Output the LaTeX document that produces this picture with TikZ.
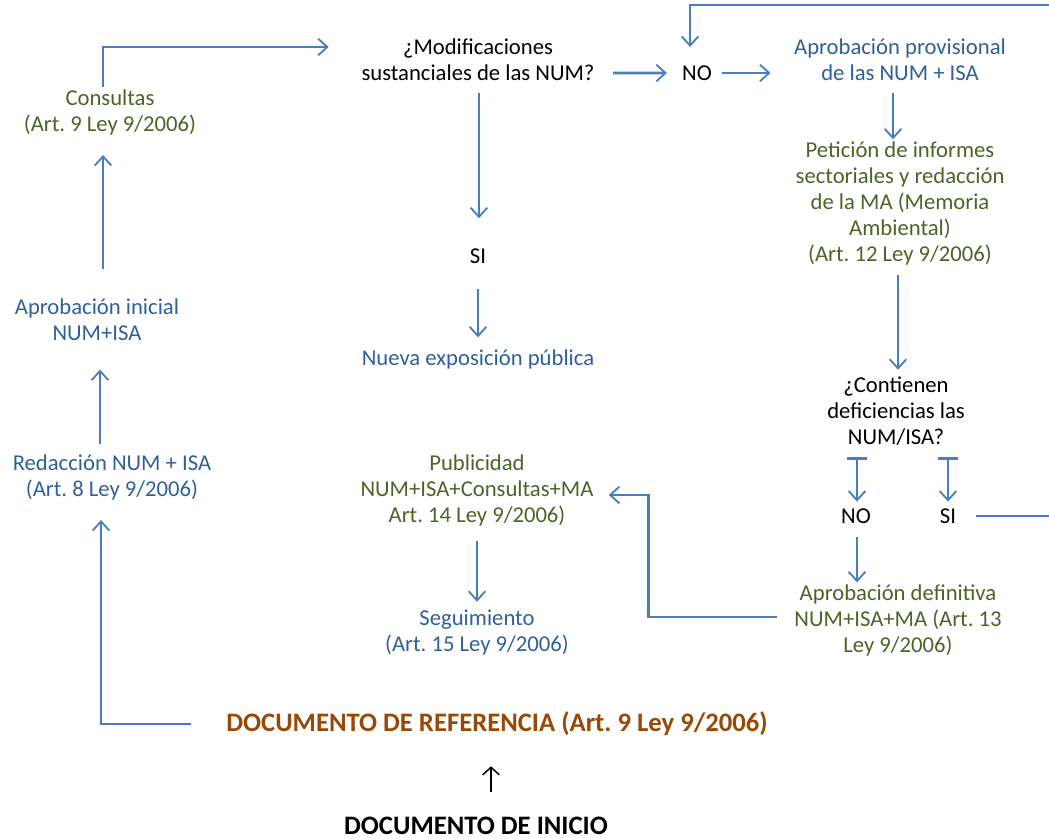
\documentclass[tikz,border=0pt]{standalone}
\usepackage{fontspec}
\setmainfont{Carlito}
\usetikzlibrary{arrows.meta, positioning, calc}
\definecolor{flowblue}{HTML}{4A7EBB}
\definecolor{txtblue}{HTML}{30609A}
\definecolor{txtgreen}{HTML}{4F6228}
\definecolor{txtbrown}{HTML}{984807}
\frenchspacing

\begin{document}
\begin{tikzpicture}[
  x=0.6pt, y=-0.6pt,
  every node/.style={inner sep=0pt, align=center, font=\fontsize{13.6}{15.6}\selectfont},
  blk/.style={text=black},
  blu/.style={text=txtblue},
  grn/.style={text=txtgreen},
  big/.style={font=\fontsize{16}{19}\selectfont\bfseries},
  flow/.style={-{Straight Barb[length=5.5pt,width=10pt,line width=1.1pt]}, line width=1.7pt, draw=flowblue},
  tbar/.style={{Bar[width=12pt,line width=1.7pt]}-{Straight Barb[length=5.5pt,width=10pt,line width=1.1pt]}, line width=1.7pt, draw=flowblue},
  up/.style={-{Straight Barb[length=4.5pt,width=10pt,line width=0.9pt]}, line width=0.9pt, draw=black}
]
  \useasboundingbox (0,0) rectangle (1049,839);

  % Nodes
  \node[grn] (cons) at (110,112) {Consultas\\(Art. 9 Ley 9/2006)};
  \node[blk] (mod) at (478,60) {¿Modificaciones\\sustanciales de las NUM?};
  \node[blk] (no1) at (697,73) {NO};
  \node[blu] (aprov) at (900,60) {Aprobación provisional\\de las NUM + ISA};
  \node[grn] (pet) at (900,203) {Petición de informes\\sectoriales y redacción\\de la MA (Memoria\\Ambiental)\\(Art. 12 Ley 9/2006)};
  \node[blk] (si1) at (478,256) {SI};
  \node[blu] (nueva) at (478,359) {Nueva exposición pública};
  \node[blu] (ainic) at (97,320) {Aprobación inicial\\NUM+ISA};
  \node[blu] (redac) at (112,477) {Redacción NUM + ISA\\(Art. 8 Ley 9/2006)};
  \node[blk] (cont) at (896,411) {¿Contienen\\deficiencias las\\NUM/ISA?};
  \node[blk] (no2) at (856,516) {NO};
  \node[blk] (si2) at (948,516) {SI};
  \node[grn] (pub) at (477,490) {Publicidad\\NUM+ISA+Consultas+MA\\Art. 14 Ley 9/2006)};
  \node[blu] (seg) at (477,633) {Seguimiento\\(Art. 15 Ley 9/2006)};
  \node[grn] (adef) at (898,620) {Aprobación definitiva\\NUM+ISA+MA (Art. 13\\Ley 9/2006)};
  \node[big, text=txtbrown] (docref) at (497,724) {DOCUMENTO DE REFERENCIA (Art. 9 Ley 9/2006)};
  \node[big, blk] (docini) at (476,826) {DOCUMENTO DE INICIO};

  % helper points for the loop that leaves the page
  \coordinate (loopr) at (1075,5);
  \coordinate (loopl) at (690,5);

  % Connectors
  \draw[flow, shorten <=1pt, shorten >=19.5pt] ([xshift=-4.2pt]cons.north) |- ([yshift=7.8pt]mod.west);
  \draw[flow, shorten <=11pt, shorten >=9pt] ([yshift=-7.8pt]mod.east) -- (no1.west);
  \draw[flow, shorten <=6pt, shorten >=14pt] (no1.east) -- (aprov.west |- no1);
  \draw[flow, shorten <=7pt, shorten >=1pt] ([xshift=-4.2pt]aprov.south) -- ([xshift=-4.2pt]aprov.south |- pet.north);
  \draw[flow, shorten <=7pt, shorten >=18pt] ([xshift=0.6pt]mod.south) -- ([xshift=0.6pt]mod.south |- si1.north);
  \draw[flow, shorten <=15pt, shorten >=7pt] (si1.south) -- (nueva.north);
  \draw[flow, shorten <=6pt, shorten >=4pt] ([xshift=-1.2pt]pet.south) -- ([xshift=-1.2pt]pet.south |- cont.north);
  \draw[tbar, shorten <=7pt, shorten >=4pt] ([xshift=0.6pt]no2.north |- cont.south) -- ([xshift=0.6pt]no2.north);
  \draw[tbar, shorten <=7pt, shorten >=4pt] (si2.north |- cont.south) -- (si2.north);
  \draw[flow, shorten <=8pt, shorten >=1pt] ([xshift=0.6pt]no2.south) -- ([xshift=0.6pt]no2.south |- adef.north);
  \draw[flow, shorten <=10pt, shorten >=9pt] ([yshift=1.8pt]adef.west) -- ++(-146,0) |- ([yshift=-3pt]pub.east);
  \draw[flow, shorten <=9pt, shorten >=5pt] (pub.south) -- (seg.north);
  \draw[flow, shorten <=6pt, shorten >=17pt] ([xshift=-7.2pt]redac.north) -- ([xshift=-7.2pt]redac.north |- ainic.south);
  \draw[flow, shorten <=18pt, shorten >=12pt] ([xshift=3.6pt]ainic.north) -- ([xshift=3.6pt]ainic.north |- cons.south);
  \draw[flow, shorten <=21pt, shorten >=12pt] (docref.west) -| ([xshift=-6.6pt]redac.south);
  \draw[flow, shorten <=12pt, shorten >=11pt] (si2.east) -- (si2.east -| loopr) -- (loopr) -- (loopl) -- (loopl |- no1.north);
  \draw[up, shorten <=15pt, shorten >=18pt] ([xshift=9pt]docini.north) -- ([xshift=9pt]docini.north |- docref.south);
\end{tikzpicture}
\end{document}
